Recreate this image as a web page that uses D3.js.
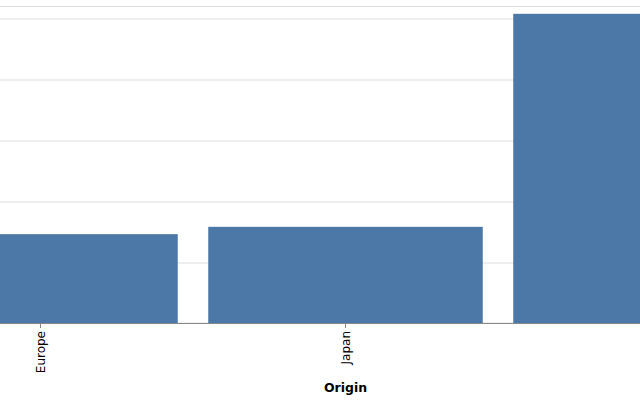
<!DOCTYPE html>
<html>
<head>
<meta charset="utf-8">
<script src="https://cdn.jsdelivr.net/npm/d3@7"></script>
<style>
  body { margin: 0; background: #fff; }
  svg { display: block; font-family: "DejaVu Sans", sans-serif; }
</style>
</head>
<body>
<div id="chart"></div>
<script>
// ========== Data ==========
const origins = ['Europe', 'Japan', 'USA'];
const counts = [73, 79, 254];
const yTicks = [0, 50, 100, 150, 200, 250];
const yMax = 260;

// ========== Config ==========
// the view is wider than the window, so it starts left of the frame
const config = {
  width: 640,
  height: 400,
  margin: {left: -112, top: 6.5},
  plot: {width: 915, height: 316.5}
};

const svg = d3.select('#chart')
  .append('svg')
  .attr('width', config.width)
  .attr('height', config.height);

const g = svg.append('g')
  .attr('transform', `translate(${config.margin.left}, ${config.margin.top})`);

// ========== Scales ==========
const x = d3.scaleBand()
  .domain(origins)
  .range([0, config.plot.width])
  .paddingInner(0.1)
  .paddingOuter(0.05);

const y = d3.scaleLinear()
  .domain([0, yMax])
  .range([config.plot.height, 0]);

// ========== Grid ==========
g.append('g')
  .attr('class', 'grid')
  .selectAll('line')
  .data(yTicks.filter(d => d > 0))
  .join('line')
    .attr('x1', 0)
    .attr('x2', config.plot.width)
    .attr('y1', d => Math.round(y(d)) + 0.5)
    .attr('y2', d => Math.round(y(d)) + 0.5)
    .attr('stroke', '#ddd');

// view border
g.append('rect')
  .attr('x', 0.5)
  .attr('y', 0)
  .attr('width', config.plot.width)
  .attr('height', config.plot.height)
  .attr('fill', 'none')
  .attr('stroke', '#ddd');

// ========== Bars ==========
g.append('g')
  .selectAll('rect')
  .data(origins.map((o, i) => ({origin: o, count: counts[i]})))
  .join('rect')
    .attr('x', d => x(d.origin))
    .attr('y', d => y(d.count))
    .attr('width', x.bandwidth())
    .attr('height', d => y(0) - y(d.count))
    .attr('fill', '#4c78a8');

// ========== X Axis ==========
const xAxis = g.append('g')
  .attr('transform', `translate(0, ${config.plot.height})`)
  .call(d3.axisBottom(x).tickSize(5).tickSizeOuter(0));

xAxis.select('.domain').attr('stroke', '#888');
xAxis.selectAll('.tick line').attr('stroke', '#888');
xAxis.selectAll('.tick text')
  .attr('transform', 'rotate(-90)')
  .attr('x', -8)
  .attr('y', 0)
  .attr('dy', '0.35em')
  .attr('text-anchor', 'end')
  .attr('fill', '#000')
  .style('font-family', '"DejaVu Sans", sans-serif')
  .style('font-size', '12px');

// axis title
g.append('text')
  .attr('x', config.plot.width / 2)
  .attr('y', config.plot.height + 69)
  .attr('text-anchor', 'middle')
  .style('font-size', '12.5px')
  .style('font-weight', 'bold')
  .text('Origin');
</script>
</body>
</html>
